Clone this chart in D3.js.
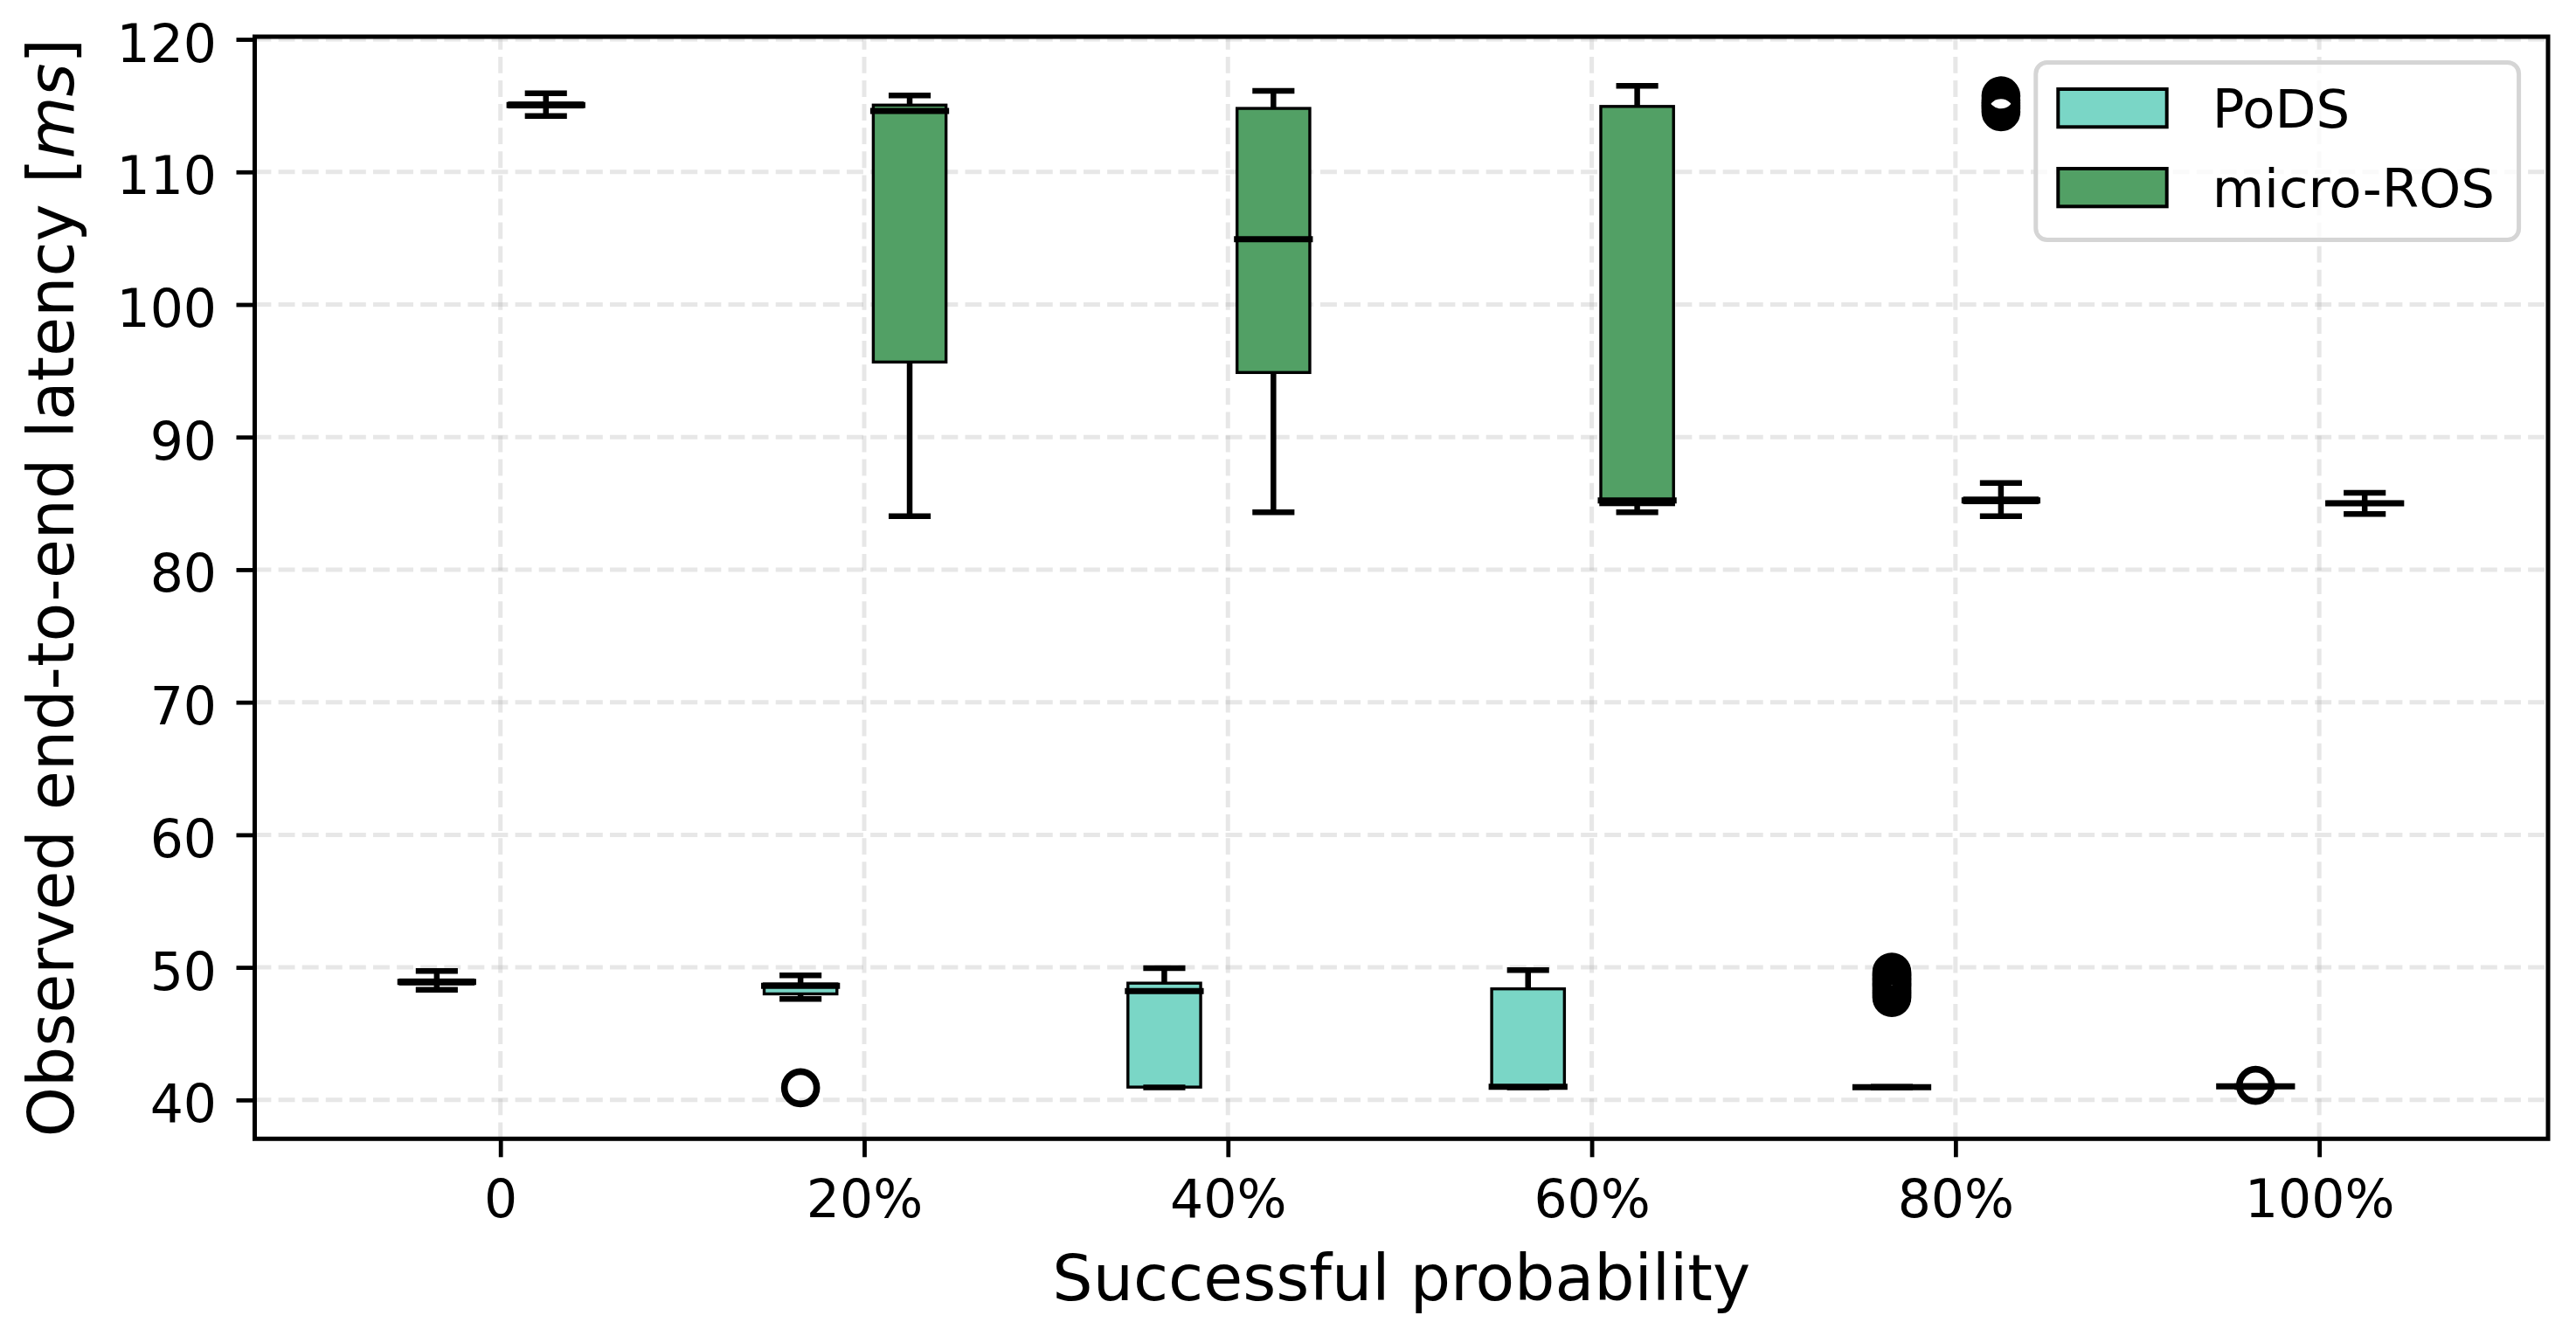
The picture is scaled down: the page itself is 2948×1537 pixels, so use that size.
<!DOCTYPE html>
<html>
<head>
<meta charset="utf-8">
<script src="https://cdn.jsdelivr.net/npm/d3@7"></script>
<style>
  body { margin: 0; background: #fff; }
  svg { display: block; font-family: "DejaVu Sans", sans-serif; }
</style>
</head>
<body>
<svg width="2948" height="1537"></svg>
<script>
// categories on the x axis
const categories = ["0", "20%", "40%", "60%", "80%", "100%"];
const yTicks = [40, 50, 60, 70, 80, 90, 100, 110, 120];
const seriesNames = ["PoDS", "micro-ROS"];

// PoDS box statistics
const podsLow  = [48.31, 47.62, 40.95, 40.95, 40.95, 40.98];
const podsQ1   = [48.75, 48.0, 40.97, 40.97, 40.95, 40.98];
const podsMed  = [48.9, 48.6, 48.22, 40.99, 40.97, 41.03];
const podsQ3   = [49.05, 48.75, 48.81, 48.38, 40.99, 41.05];
const podsHigh = [49.72, 49.4, 49.94, 49.79, 40.99, 41.05];
const podsOut  = [[], [40.92], [], [],
  [47.72, 47.85, 48.0, 48.12, 48.25, 48.4, 48.55, 48.68, 48.8, 48.95, 49.1, 49.22, 49.38, 49.5, 49.65],
  [41.1]];

// micro-ROS box statistics
const rosLow  = [114.22, 84.04, 84.33, 84.33, 84.04, 84.2];
const rosQ1   = [114.9, 95.66, 94.87, 84.9, 85.05, 84.95];
const rosMed  = [115.05, 114.6, 104.93, 85.22, 85.22, 85.0];
const rosQ3   = [115.2, 115.04, 114.79, 114.94, 85.4, 85.1];
const rosHigh = [115.93, 115.76, 116.12, 116.5, 86.54, 85.8];
const rosOut  = [[], [], [], [], [114.54, 114.8, 115.0, 115.2, 115.4, 115.74], []];

const colors = ["#7ad6c6", "#52a065"];
const offsets = [-0.175, 0.125];
const boxW = 0.2;

let svg = d3.select('svg');
svg.append("rect").attr("width", 2948).attr("height", 1537).attr("fill", "#fff");

const mLeft = 291.5, mRight = 2916, mTop = 42, mBottom = 1303.3;
const x = d3.scaleLinear().domain([-0.6755, 5.629]).range([mLeft, mRight]);
const y = d3.scaleLinear().domain([37.07, 120.2]).range([mBottom, mTop]);

// grid
let grid = svg.append("g");
grid.selectAll("line.h").data(yTicks).enter().append("line")
  .attr("x1", mLeft).attr("x2", mRight)
  .attr("y1", d => y(d)).attr("y2", d => y(d));
grid.selectAll("line.v").data(categories).enter().append("line")
  .attr("x1", (d, i) => x(i)).attr("x2", (d, i) => x(i))
  .attr("y1", mBottom).attr("y2", mTop);
grid.selectAll("line")
  .attr("stroke", "#b0b0b0").attr("stroke-opacity", 0.3)
  .attr("stroke-width", 5).attr("stroke-dasharray", "18.9,8.2");

// build box rows from the arrays
function rows(low, q1, med, q3, high, out, s) {
  return categories.map((c, i) => ({
    pos: i + offsets[s], low: low[i], q1: q1[i], med: med[i], q3: q3[i], high: high[i], out: out[i], s: s
  }));
}
const data = [
  rows(podsLow, podsQ1, podsMed, podsQ3, podsHigh, podsOut, 0),
  rows(rosLow, rosQ1, rosMed, rosQ3, rosHigh, rosOut, 1)
];

data.forEach(function(series) {
  let g = svg.append("g");
  // boxes
  g.selectAll("rect").data(series).enter().append("rect")
    .attr("x", d => x(d.pos - boxW / 2))
    .attr("width", d => x(d.pos + boxW / 2) - x(d.pos - boxW / 2))
    .attr("y", d => y(d.q3))
    .attr("height", d => y(d.q1) - y(d.q3))
    .attr("fill", d => colors[d.s])
    .attr("stroke", "#000").attr("stroke-width", 3.4);
  // whiskers
  g.selectAll("line.wlo").data(series).enter().append("line")
    .attr("x1", d => x(d.pos)).attr("x2", d => x(d.pos))
    .attr("y1", d => y(d.q1)).attr("y2", d => y(d.low))
    .attr("stroke", "#000").attr("stroke-width", 6.5);
  g.selectAll("line.whi").data(series).enter().append("line")
    .attr("x1", d => x(d.pos)).attr("x2", d => x(d.pos))
    .attr("y1", d => y(d.q3)).attr("y2", d => y(d.high))
    .attr("stroke", "#000").attr("stroke-width", 6.5);
  // caps
  ["low", "high"].forEach(function(k) {
    g.selectAll("line.cap-" + k).data(series).enter().append("line")
      .attr("x1", d => x(d.pos - boxW / 4)).attr("x2", d => x(d.pos + boxW / 4))
      .attr("y1", d => y(d[k])).attr("y2", d => y(d[k]))
      .attr("stroke", "#000").attr("stroke-width", 6.5).attr("stroke-linecap", "square");
  });
  // medians
  g.selectAll("line.med").data(series).enter().append("line")
    .attr("x1", d => x(d.pos - boxW / 2)).attr("x2", d => x(d.pos + boxW / 2))
    .attr("y1", d => y(d.med)).attr("y2", d => y(d.med))
    .attr("stroke", "#000").attr("stroke-width", 7).attr("stroke-linecap", "square");
  // fliers
  series.forEach(function(d) {
    g.selectAll(null).data(d.out).enter().append("circle")
      .attr("cx", x(d.pos)).attr("cy", v => y(v)).attr("r", 18.5)
      .attr("fill", "none").attr("stroke", "#000").attr("stroke-width", 7.6);
  });
});

// axes
let yAxis = svg.append("g").attr("transform", "translate(" + mLeft + ",0)")
  .call(d3.axisLeft(y).tickValues(yTicks).tickSize(21).tickSizeOuter(0));
yAxis.select(".domain").remove();
yAxis.selectAll(".tick line").attr("stroke", "#000").attr("stroke-width", 4.8);
yAxis.selectAll(".tick text").attr("x", -43.5).attr("dy", "0.417em")
  .attr("font-size", 60).attr("font-family", "DejaVu Sans").attr("fill", "#000");

let xAxis = svg.append("g").attr("transform", "translate(0," + mBottom + ")")
  .call(d3.axisBottom(x).tickValues(d3.range(categories.length))
    .tickFormat(i => categories[i]).tickSize(21).tickSizeOuter(0));
xAxis.select(".domain").remove();
xAxis.selectAll(".tick line").attr("stroke", "#000").attr("stroke-width", 4.8);
xAxis.selectAll(".tick text").attr("y", 89.7).attr("dy", 0)
  .attr("font-size", 60).attr("font-family", "DejaVu Sans").attr("fill", "#000");

// spines
svg.append("rect").attr("x", mLeft).attr("y", mTop)
  .attr("width", mRight - mLeft).attr("height", mBottom - mTop)
  .attr("fill", "none").attr("stroke", "#000").attr("stroke-width", 5);

// axis titles
svg.append("text").attr("x", (mLeft + mRight) / 2).attr("y", 1488)
  .attr("text-anchor", "middle").attr("font-size", 73)
  .text("Successful probability");

let yl = svg.append("text")
  .attr("transform", "translate(84," + (mTop + mBottom) / 2 + ") rotate(-90)")
  .attr("text-anchor", "middle").attr("font-size", 73);
yl.append("tspan").text("Observed end-to-end latency [");
yl.append("tspan").attr("font-style", "italic").text("ms");
yl.append("tspan").text("]");

// legend
let lg = svg.append("g");
lg.append("rect").attr("x", 2329.8).attr("y", 71.4).attr("width", 552.8).attr("height", 203.2)
  .attr("rx", 13).attr("fill", "#fff").attr("fill-opacity", 0.8)
  .attr("stroke", "#d5d5d5").attr("stroke-width", 5);
lg.selectAll("rect.key").data(seriesNames).enter().append("rect")
  .attr("x", 2355.3).attr("y", (d, i) => 102 + i * 91)
  .attr("width", 124.4).attr("height", 43.3)
  .attr("fill", (d, i) => colors[i]).attr("stroke", "#000").attr("stroke-width", 4);
lg.selectAll("text").data(seriesNames).enter().append("text")
  .attr("x", 2531.7).attr("y", (d, i) => 145.5 + i * 91)
  .attr("font-size", 61).text(d => d);
</script>
</body>
</html>
